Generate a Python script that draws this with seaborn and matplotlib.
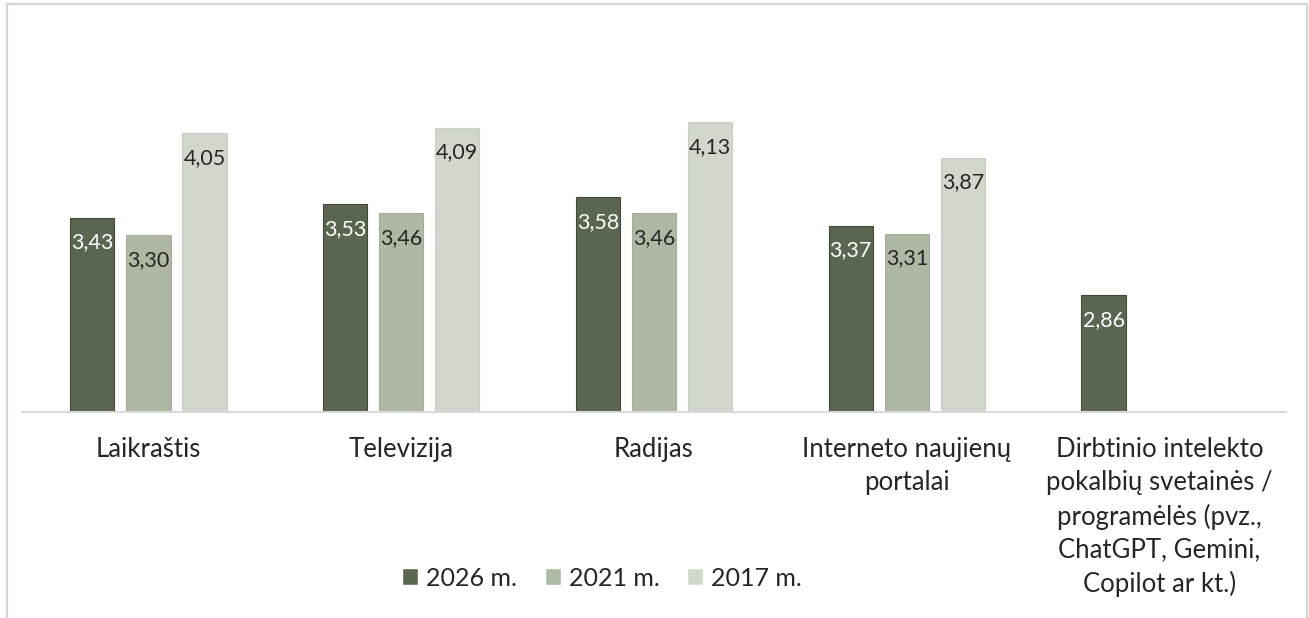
import pandas as pd
import numpy as np
import seaborn as sns
import matplotlib.pyplot as plt
from matplotlib.patches import Rectangle

# Data
categories = ['Laikraštis', 'Televizija', 'Radijas', 'Interneto naujienų\nportalai',
              'Dirbtinio intelekto\npokalbių svetainės /\nprogramėlės (pvz.,\nChatGPT, Gemini,\nCopilot ar kt.)']
years = ['2026 m.', '2021 m.', '2017 m.']
vals_2026 = [3.43, 3.53, 3.58, 3.37, 2.86]
vals_2021 = [3.30, 3.46, 3.46, 3.31, np.nan]
vals_2017 = [4.05, 4.09, 4.13, 3.87, np.nan]
colors = ['#5a694e', '#aebba2', '#d0d9cb']

rows = []
for year, vals in zip(years, [vals_2026, vals_2021, vals_2017]):
    for cat, v in zip(categories, vals):
        rows.append({'cat': cat, 'year': year, 'value': v})
df = pd.DataFrame(rows).dropna()

sns.set_style('white')
plt.rcParams['font.family'] = ['Lato', 'DejaVu Sans']

fig = plt.figure(figsize=(13.09, 6.18), dpi=100)
ax = fig.add_axes([22 / 1309, 1 - 412 / 618, (1286 - 22) / 1309, (412 - 72) / 618])

sns.barplot(data=df, x='cat', y='value', hue='year', order=categories, hue_order=years,
            palette=colors, width=0.665, gap=0.21, ax=ax, legend=False, errorbar=None)

# edges
for cont, ec in zip(ax.containers, ['#3f4b36', '#a2ae96', '#c6cfc1']):
    for b in cont:
        b.set_edgecolor(ec)
        b.set_linewidth(0.8)

# value labels inside top of bars
for cont, tc in zip(ax.containers, ['white', '#262626', '#262626']):
    labs = [f'{v:.2f}'.replace('.', ',') for v in cont.datavalues]
    ax.bar_label(cont, labels=labs, padding=-25, color=tc, fontsize=15.5)

ax.set_ylim(2, 4.5)
ax.set_xlim(-0.5, 4.5)
ax.set_xlabel('')
ax.set_ylabel('')
ax.set_yticks([])
for s in ['top', 'right', 'left']:
    ax.spines[s].set_visible(False)
ax.spines['bottom'].set_color('#d9d9d9')
ax.spines['bottom'].set_linewidth(1.5)

ax.set_xticks(np.arange(len(categories)))
ax.set_xticklabels(categories, fontsize=18.5, color='#262626', linespacing=1.4, va='top')
ax.tick_params(axis='x', which='major', length=0, pad=18)
ax.set_xticks(np.arange(-0.5, len(categories)), minor=True)
ax.tick_params(axis='x', which='minor', length=6, width=1.2, color='#d9d9d9')

# legend
handles = [Rectangle((0, 0), 1, 1, facecolor=c) for c in colors]
ax.legend(handles, years, ncol=3, frameon=False, loc='center',
          bbox_to_anchor=(602 / 1309, 1 - 578 / 618), bbox_transform=fig.transFigure,
          fontsize=18, handlelength=0.64, handleheight=0.64, handletextpad=0.32,
          columnspacing=1.1, labelcolor='#262626')

# chart border
fig.patches.append(Rectangle((7 / 1309, -0.1), 1300 / 1309, 1.1 - 4 / 618, transform=fig.transFigure,
                             fill=False, edgecolor='#d4d4d4', linewidth=1.6))

fig.savefig('out.png', dpi=100)
